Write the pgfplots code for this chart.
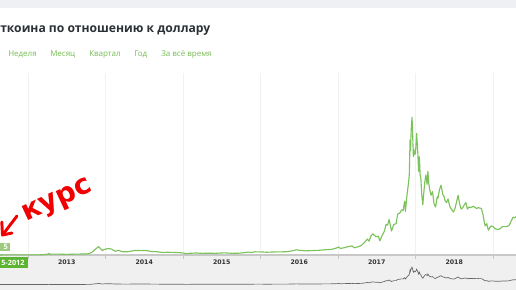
\documentclass[border=0pt]{standalone}
\usepackage{pgfplots}
\pgfplotsset{compat=1.18}
\usepackage{pgfplotstable}
\usepackage{fontspec}
\setmainfont{Open Sans}
\newfontfamily\dejavu{DejaVu Sans}
\definecolor{linegreen}{HTML}{7CC35C}
\definecolor{navgreen}{HTML}{78BC56}
\definecolor{titlecol}{HTML}{2A3035}
\definecolor{topgray}{HTML}{EEF0F3}
\definecolor{bandgray}{HTML}{F0F0F0}
\definecolor{hgrid}{HTML}{E3E3E3}
\definecolor{vgrid}{HTML}{F1F1F1}
\definecolor{axisgray}{HTML}{C8C8C8}
\definecolor{tipgreen}{HTML}{5CB531}
\definecolor{tiplight}{HTML}{9CCB7E}
\definecolor{redmark}{HTML}{F00000}

\pgfplotstableread{
t v
2012.64 10
2012.70 11
2012.75 12
2012.80 11
2012.85 11.5
2012.90 12.5
2012.95 13.3
2013.00 13.5
2013.05 15
2013.10 20
2013.15 27
2013.20 47
2013.23 75
2013.26 140
2013.27 230
2013.28 80
2013.30 130
2013.35 115
2013.40 120
2013.45 100
2013.50 90
2013.55 100
2013.60 115
2013.65 125
2013.70 135
2013.75 140
2013.79 200
2013.83 400
2013.87 800
2013.91 1150
2013.93 950
2013.96 600
2013.98 750
2014.00 800
2014.04 900
2014.08 800
2014.11 600
2014.13 520
2014.17 650
2014.21 460
2014.25 450
2014.28 440
2014.33 520
2014.38 640
2014.42 620
2014.46 600
2014.50 620
2014.54 590
2014.58 500
2014.63 470
2014.67 440
2014.71 390
2014.75 350
2014.80 380
2014.85 360
2014.90 350
2014.96 320
2015.00 280
2015.04 180
2015.08 230
2015.12 250
2015.17 280
2015.21 250
2015.25 230
2015.33 240
2015.42 230
2015.50 280
2015.54 300
2015.58 270
2015.63 230
2015.71 240
2015.79 320
2015.84 400
2015.88 340
2015.93 440
2016.00 430
2016.08 380
2016.17 420
2016.25 430
2016.33 450
2016.42 580
2016.46 720
2016.50 650
2016.58 570
2016.67 610
2016.75 640
2016.83 720
2016.92 780
2016.98 960
2017.01 1100
2017.03 900
2017.08 1000
2017.13 1150
2017.18 1250
2017.21 1000
2017.25 1100
2017.30 1300
2017.34 1700
2017.38 2200
2017.40 1900
2017.43 2700
2017.45 2900
2017.49 2500
2017.52 2600
2017.54 1950
2017.57 2700
2017.60 3300
2017.62 4200
2017.64 4100
2017.66 4900
2017.69 3300
2017.70 3600
2017.72 4200
2017.75 4300
2017.77 5600
2017.80 5800
2017.82 6200
2017.84 6100
2017.86 7400
2017.87 6000
2017.89 8200
2017.91 9900
2017.92 11000
2017.93 15800
2017.935 14300
2017.945 17300
2017.955 18900
2017.96 17800
2017.967 15300
2017.973 13500
2017.98 14500
2017.99 13800
2018.00 14000
2018.015 16700
2018.03 14000
2018.04 11500
2018.05 13500
2018.06 11000
2018.07 10500
2018.08 8400
2018.095 6900
2018.105 8300
2018.12 10000
2018.135 11000
2018.15 9700
2018.16 11500
2018.17 10000
2018.18 9200
2018.20 8200
2018.22 8700
2018.24 7000
2018.26 6600
2018.28 8000
2018.29 7800
2018.31 9000
2018.33 9600
2018.35 8400
2018.37 8000
2018.38 7500
2018.40 7200
2018.42 7700
2018.44 6800
2018.45 6500
2018.47 6200
2018.49 5900
2018.51 6400
2018.53 7300
2018.55 8200
2018.57 7000
2018.59 6300
2018.61 6500
2018.63 6900
2018.65 7200
2018.67 6300
2018.69 6600
2018.71 6500
2018.73 6600
2018.75 6700
2018.77 6500
2018.79 6400
2018.81 6500
2018.83 6450
2018.85 6400
2018.87 5600
2018.89 4400
2018.90 4000
2018.92 4300
2018.94 3400
2018.96 3800
2018.98 4000
2019.00 3900
2019.03 3600
2019.06 3500
2019.09 3600
2019.12 3900
2019.15 3900
2019.18 3900
2019.21 4100
2019.24 4800
2019.26 5200
2019.28 5100
2019.30 5300
}\btc

\begin{document}
\begin{tikzpicture}
\clip (0pt,0pt) rectangle (387pt,-217.5pt);
\begin{scope}[x=0.75pt,y=-0.75pt]
\fill[white] (0,0) rectangle (516,290);
\fill[topgray] (0,0) rectangle (516,8);
\fill[bandgray] (0,255) rectangle (516,290);

% title and navigation
\node[anchor=base west, inner sep=0pt, text=titlecol, font=\fontsize{9.1}{11}\selectfont\bfseries] at (0,32) {ткоина по отношению к доллару};
\begin{scope}[every node/.style={anchor=base west, inner sep=0pt, text=navgreen, font=\fontsize{6}{7}\selectfont}]
\node at (8,56) {Неделя};
\node at (50,56) {Месяц};
\node at (89,56) {Квартал};
\node at (134,56) {Год};
\node at (161,56) {За всё время};
\end{scope}
\end{scope}

% main chart
\begin{axis}[at={(0pt,-191.25pt)}, anchor=south west, scale only axis,
  width=387pt, height=136.5pt,
  xmin=2012.639, xmax=2019.297, ymin=0, ymax=25000,
  xtick={2013,...,2019}, xticklabels={},
  ytick={0,5000,...,25000}, yticklabels={},
  xmajorgrids, ymajorgrids,
  x grid style={color=vgrid, line width=0.5pt},
  y grid style={color=hgrid, line width=0.7pt},
  axis x line=bottom, axis y line=none,
  x axis line style={-, color=axisgray, line width=0.8pt},
  xtick style={color=axisgray, line width=0.6pt},
  ytick style={draw=none},
  tick align=outside, major tick length=3pt,
  clip=false]
\addplot[color=linegreen, line width=0.85pt, line join=round] table[x=t, y=v] {\btc};
\foreach \yr in {2013,...,2018} {
  \edef\temp{\noexpand\node[text=black!80, font=\noexpand\dejavu\noexpand\bfseries\noexpand\fontsize{4.7}{6}\noexpand\selectfont] at (axis cs:\yr.5,0) [yshift=-5.6pt] {\yr};}
  \temp
}
\end{axis}

% navigator
\begin{axis}[at={(0pt,-213.4pt)}, anchor=south west, scale only axis,
  width=387pt, height=13.8pt,
  xmin=2012.639, xmax=2019.297, ymin=0, ymax=20000,
  hide axis, clip=false]
\addplot[color=black!60, line width=0.5pt] table[x=t, y=v] {\btc};
\end{axis}

\begin{scope}[x=0.75pt,y=-0.75pt]
% tooltip labels
\fill[tiplight] (-5,242.5) rectangle (10,251);
\node[anchor=base east, inner sep=0pt, text=white, font=\fontsize{5.5}{6}\selectfont\bfseries] at (8,249.5) {5};
\fill[tipgreen] (-5,257) rectangle (27.5,268);
\node[anchor=base west, inner sep=0pt, text=white, font=\fontsize{5.5}{6}\selectfont\bfseries] at (1,265) {5-2012};

% handwritten annotation
\node[rotate=25, text=redmark, font=\dejavu\fontsize{21}{24}\selectfont\bfseries] at (58,202) {курс};
\draw[redmark, line width=2.2pt, line cap=round, line join=round] (17,216) -- (2.5,235);
\draw[redmark, line width=2.2pt, line cap=round, line join=round] (1.8,222) -- (2.5,235) -- (12,233);
\end{scope}
\end{tikzpicture}
\end{document}
